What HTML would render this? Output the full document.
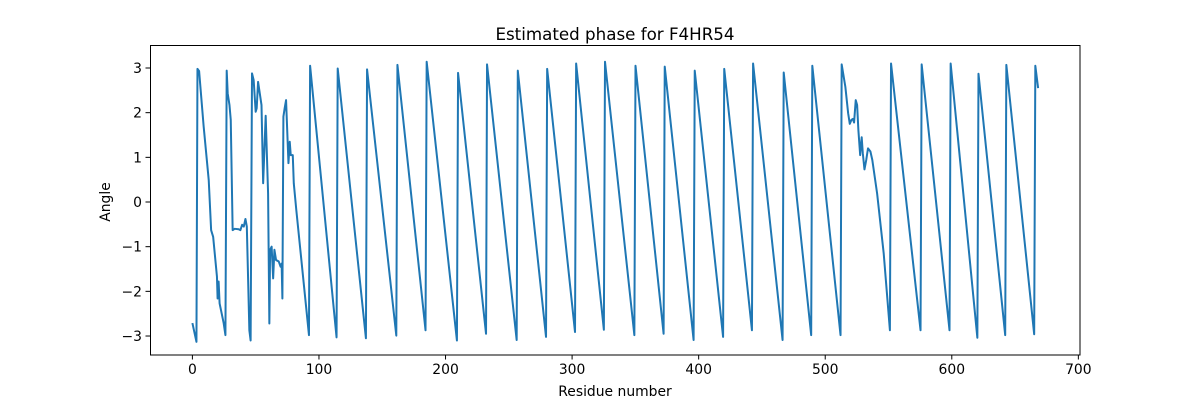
<!DOCTYPE html>
<html><head><meta charset="utf-8"><style>
html,body{margin:0;padding:0;background:#fff;}
svg{display:block;font-family:"DejaVu Sans","Liberation Sans",sans-serif;}
</style></head><body>
<svg id="chart" width="1200" height="400" xmlns="http://www.w3.org/2000/svg">
<text x="615" y="40" text-anchor="middle" font-size="16.7">Estimated phase for F4HR54</text>
<g id="xt"></g>
<g id="yt"></g>
<path id="line" fill="none" stroke="#1f77b4" stroke-width="2" stroke-linejoin="round"/>
<rect x="150.5" y="45.5" width="929.5" height="309.5" fill="none" stroke="#000" stroke-width="1"/>
<text x="615" y="396" text-anchor="middle" font-size="13.9">Residue number</text>
<text x="0" y="0" transform="translate(110,202) rotate(-90)" text-anchor="middle" font-size="13.9">Angle</text>
</svg>
<script>
const xTicks = [0,100,200,300,400,500,600,700];
const yTicks = [-3,-2,-1,0,1,2,3];
const residues = [0,3.2,4,5.3,8.9,12.9,14.8,16.4,19.4,19.9,20.7,21.5,24.7,26.1,27.1,27.9,29.3,30.3,31.8,33.4,36.6,37.9,39.3,40.6,41.9,43.0,45.0,46.0,47.1,48.4,50.0,50.8,51.9,54.6,55.9,57.9,59.8,60.8,61.4,62.6,63.8,64.8,66.1,68.2,69.7,70.5,71.1,71.9,72.9,74.0,75.9,76.9,77.7,79.3,80.1,82.1,92.1,93.0,
113.9,114.8,137.1,138.0,161.1,162.0,184.2,185.1,209.0,209.9,232.0,232.8,256.2,257.1,279.4,280.3,302.3,303.2,325.1,326.0,349.2,350.1,372.3,373.2,396.0,396.9,419.3,420.2,442.1,443.0,466.3,467.2,488.9,489.8,512.1,513.0,
515.9,518.1,519.4,520.7,521.8,522.8,524.1,525.2,526.2,527.6,528.8,529.7,531.0,532.4,533.8,535.7,537.2,541.0,546.2,551.1,552.0,575.3,576.2,598.2,599.1,620.2,621.1,642.2,643.1,665.1,666.0,668.2];
const angles = [-2.71,-3.13,2.98,2.93,1.69,0.49,-0.63,-0.78,-1.67,-2.16,-1.78,-2.27,-2.71,-2.98,2.94,2.43,2.17,1.84,-0.63,-0.60,-0.61,-0.63,-0.51,-0.55,-0.38,-0.55,-2.87,-3.1,2.88,2.73,2.02,2.1,2.69,2.17,0.42,1.93,0.19,-2.72,-1.07,-1.0,-1.71,-1.07,-1.3,-1.33,-1.45,-1.38,-2.16,1.91,2.1,2.28,0.87,1.35,1.05,1.05,0.42,-0.18,-2.98,3.05,
-3.03,2.99,-3.05,2.97,-2.99,3.07,-2.87,3.14,-3.10,2.89,-2.95,3.08,-3.09,2.94,-3.02,2.98,-2.91,3.10,-2.86,3.14,-2.98,3.05,-2.95,3.03,-3.09,2.94,-3.02,2.98,-2.87,3.10,-3.09,2.90,-2.98,3.05,-2.98,3.08,
2.58,1.99,1.75,1.84,1.86,1.78,2.28,2.17,1.61,1.05,1.45,1.09,0.73,0.94,1.2,1.13,0.94,0.19,-1.15,-2.87,3.10,-2.87,3.08,-2.87,3.10,-3.04,2.87,-2.98,3.07,-2.96,3.05,2.55];

const L=150,R=1080,T=45,B=355;
const xMin=-33.5,xMax=701.3,yMin=-3.425,yMax=3.515;
function sx(v){return L+(v-xMin)/(xMax-xMin)*(R-L);}
function sy(v){return B-(v-yMin)/(yMax-yMin)*(B-T);}
const NS='http://www.w3.org/2000/svg';
const xt=document.getElementById('xt'), yt=document.getElementById('yt');
xTicks.forEach(t=>{
  const l=document.createElementNS(NS,'line');
  l.setAttribute('x1',sx(t));l.setAttribute('x2',sx(t));l.setAttribute('y1',B);l.setAttribute('y2',B+4.5);l.setAttribute('stroke','#000');
  
  
  xt.appendChild(l);
  const tx=document.createElementNS(NS,'text');
  tx.setAttribute('x',sx(t));tx.setAttribute('y',B+19);tx.setAttribute('text-anchor','middle');tx.setAttribute('font-size','13.9');
  tx.textContent=t;
  
  
  xt.appendChild(tx);
});
yTicks.forEach(t=>{
  const l=document.createElementNS(NS,'line');
  l.setAttribute('x1',L-4.5);l.setAttribute('x2',L);l.setAttribute('y1',sy(t));l.setAttribute('y2',sy(t));l.setAttribute('stroke','#000');
  
  
  yt.appendChild(l);
  const tx=document.createElementNS(NS,'text');
  tx.setAttribute('x',L-8);tx.setAttribute('y',sy(t)+5);tx.setAttribute('text-anchor','end');tx.setAttribute('font-size','13.9');
  tx.textContent=(t<0?'\u2212'+(-t):t);
  
  
  yt.appendChild(tx);
});
let d='';
residues.forEach((r,i)=>{d+=(i?'L':'M')+sx(r).toFixed(2)+','+sy(angles[i]).toFixed(2);});
document.getElementById('line').setAttribute('d',d);
</script>
</body></html>
